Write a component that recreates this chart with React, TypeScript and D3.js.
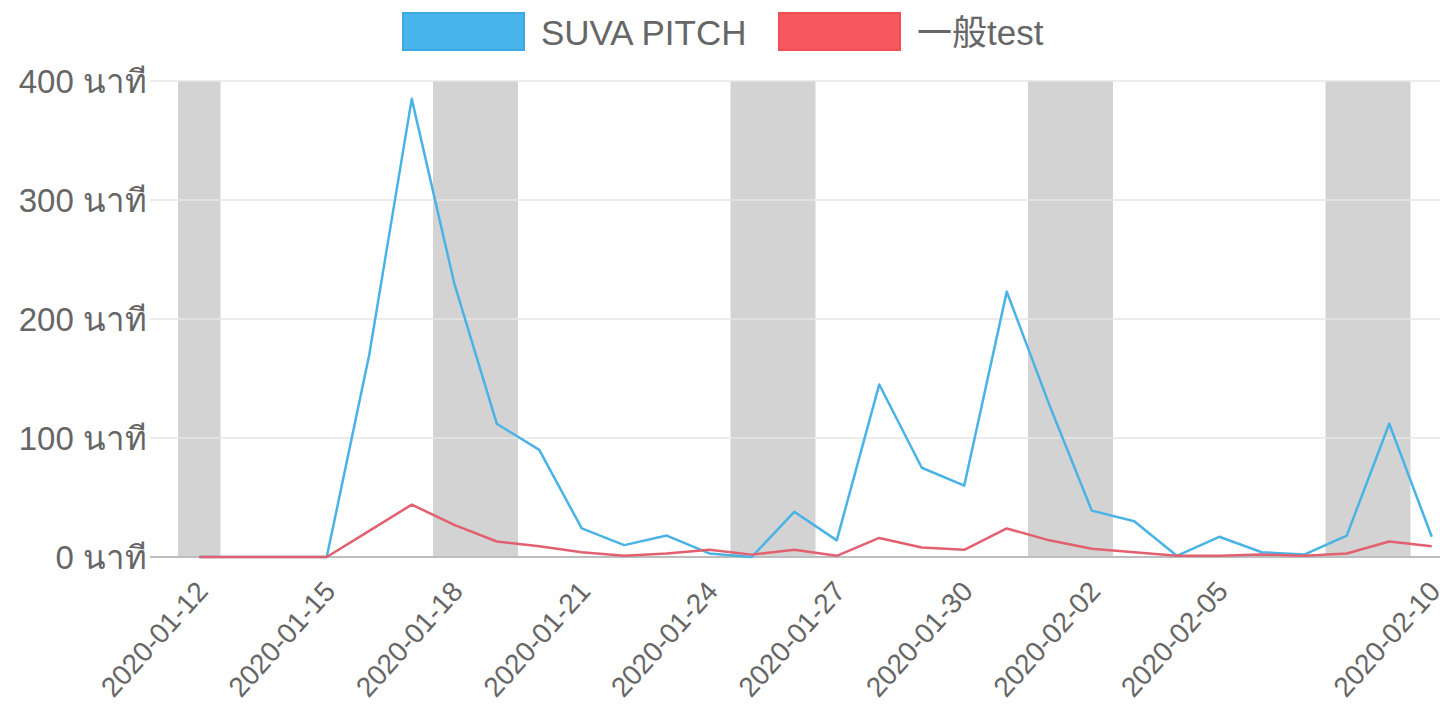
import React from 'react';
import * as d3 from 'd3';

// days shown on the x axis
const dates = [
  '2020-01-12', '2020-01-13', '2020-01-14', '2020-01-15', '2020-01-16', '2020-01-17',
  '2020-01-18', '2020-01-19', '2020-01-20', '2020-01-21', '2020-01-22', '2020-01-23',
  '2020-01-24', '2020-01-25', '2020-01-26', '2020-01-27', '2020-01-28', '2020-01-29',
  '2020-01-30', '2020-01-31', '2020-02-01', '2020-02-02', '2020-02-03', '2020-02-04',
  '2020-02-05', '2020-02-06', '2020-02-07', '2020-02-08', '2020-02-09', '2020-02-10',
];

// only these labels get drawn (auto skipped like the original)
const shownLabels = [
  '2020-01-12', '2020-01-15', '2020-01-18', '2020-01-21', '2020-01-24',
  '2020-01-27', '2020-01-30', '2020-02-02', '2020-02-05', '2020-02-10',
];

const suvaPitch = [
  0, 0, 0, 0, 170, 385, 230, 112, 90, 24, 10, 18, 3, 0, 38,
  14, 145, 75, 60, 223, 128, 39, 30, 1, 17, 4, 2, 18, 112, 17,
];

const generalTest = [
  0, 0, 0, 0, 22, 44, 27, 13, 9, 4, 1, 3, 6, 2, 6,
  1, 16, 8, 6, 24, 14, 7, 4, 1, 1, 2, 1, 3, 13, 9,
];

const yTicks = [0, 100, 200, 300, 400];
const unit = 'นาที';

const seriesNames = ['SUVA PITCH', '一般test'];

const FONT = "'Liberation Sans', Arial, 'Noto Sans', 'Noto Sans CJK SC', sans-serif";
const TEXT = '#666';

const W = 1440;
const H = 707;

const App = () => {
  const left = 178;
  const right = 1453;
  const top = 81;
  const bottom = 557;

  const x = d3.scaleBand().domain(dates).range([left, right]).padding(0);
  const y = d3.scaleLinear().domain([0, 400]).range([bottom, top]);
  const cx = (d: string) => (x(d) as number) + x.bandwidth() / 2;

  const line = d3
    .line<number>()
    .x((_, i) => cx(dates[i]))
    .y(v => y(v));

  // weekends get a grey band, neighbouring days merged into one rect
  const isWeekend = (d: string) => {
    const day = new Date(d + 'T00:00:00').getDay();
    return day === 0 || day === 6;
  };
  const bands: { start: string; end: string }[] = [];
  dates.forEach((d, i) => {
    if (!isWeekend(d)) return;
    const last = bands[bands.length - 1];
    if (last && dates.indexOf(last.end) === i - 1) last.end = d;
    else bands.push({ start: d, end: d });
  });

  const series = [
    { name: seriesNames[0], values: suvaPitch, stroke: '#4ab3e6', fill: '#47b4ec', edge: '#3ea8e2' },
    { name: seriesNames[1], values: generalTest, stroke: '#e2606f', fill: '#f7585f', edge: '#ee4f57' },
  ];

  const legendX = [403, 779];

  return (
    <svg width={W} height={H} style={{ position: 'absolute', left: 0, top: 0, background: '#fff' }}>
      {/* weekend bands */}
      {bands.map(b => (
        <rect
          key={b.start}
          x={x(b.start)}
          y={top}
          width={(x(b.end) as number) + x.bandwidth() - (x(b.start) as number)}
          height={bottom - top}
          fill="#d3d3d3"
        />
      ))}

      {/* horizontal grid */}
      {yTicks.map(t => (
        <line
          key={t}
          x1={150}
          x2={W}
          y1={y(t)}
          y2={y(t)}
          stroke={t === 0 ? '#bdbdbd' : '#e6e6e6'}
          strokeWidth={t === 0 ? 2 : 1.5}
        />
      ))}

      {/* y labels */}
      {yTicks.map(t => (
        <text
          key={t}
          x={147}
          y={y(t)}
          textAnchor="end"
          dominantBaseline="central"
          fontFamily={FONT}
          fontSize={33}
          fill={TEXT}
        >
          {t} {unit}
        </text>
      ))}

      {/* x labels */}
      {shownLabels.map(d => (
        <text
          key={d}
          transform={`translate(${cx(d) + 3},${586}) rotate(-48)`}
          textAnchor="end"
          dominantBaseline="central"
          fontFamily={FONT}
          fontSize={28}
          fill={TEXT}
        >
          {d}
        </text>
      ))}

      {/* lines */}
      {series.map(s => (
        <path
          key={s.name}
          d={line(s.values) || ''}
          fill="none"
          stroke={s.stroke}
          strokeWidth={2.5}
          strokeLinejoin="round"
        />
      ))}

      {/* legend */}
      {series.map((s, i) => (
        <g key={s.name} transform={`translate(${legendX[i]},13)`}>
          <rect x={0} y={0} width={121} height={37} fill={s.fill} stroke={s.edge} strokeWidth={2} />
          <text
            x={138}
            y={19}
            dominantBaseline="central"
            fontFamily={FONT}
            fontSize={35}
            fill={TEXT}
          >
            {s.name}
          </text>
        </g>
      ))}
    </svg>
  );
};

export default App;
